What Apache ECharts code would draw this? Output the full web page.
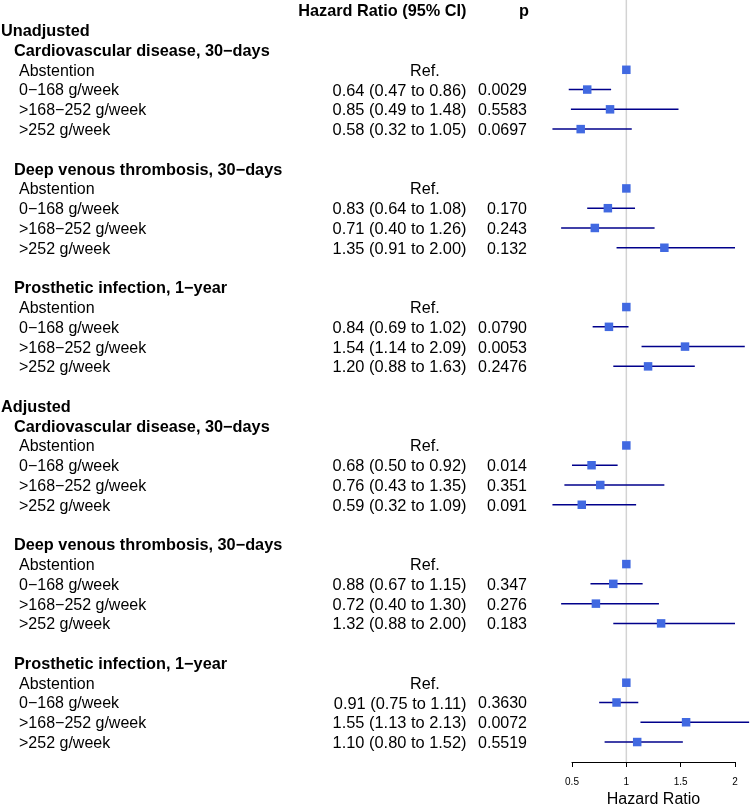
<!DOCTYPE html>
<html><head><meta charset="utf-8">
<script src="https://cdn.jsdelivr.net/npm/echarts@6/dist/echarts.min.js"></script>
<style>html,body{margin:0;padding:0;background:#fff}#c{width:750px;height:808px}</style>
</head><body><div id="c"></div>
<script>
// ---------- data ----------
const groups = ["Unadjusted", "Adjusted"];
const outcomes = ["Cardiovascular disease, 30\u2212days", "Deep venous thrombosis, 30\u2212days", "Prosthetic infection, 1\u2212year"];
const exposures = ["Abstention", "0\u2212168 g/week", ">168\u2212252 g/week", ">252 g/week"];

const hrUnadj = [[1, 0.64, 0.85, 0.58], [1, 0.83, 0.71, 1.35], [1, 0.84, 1.54, 1.20]];
const loUnadj = [[null, 0.47, 0.49, 0.32], [null, 0.64, 0.40, 0.91], [null, 0.69, 1.14, 0.88]];
const hiUnadj = [[null, 0.86, 1.48, 1.05], [null, 1.08, 1.26, 2.00], [null, 1.02, 2.09, 1.63]];
const pUnadj  = [["", "0.0029", "0.5583", "0.0697"], ["", "0.170", "0.243", "0.132"], ["", "0.0790", "0.0053", "0.2476"]];

const hrAdj = [[1, 0.68, 0.76, 0.59], [1, 0.88, 0.72, 1.32], [1, 0.91, 1.55, 1.10]];
const loAdj = [[null, 0.50, 0.43, 0.32], [null, 0.67, 0.40, 0.88], [null, 0.75, 1.13, 0.80]];
const hiAdj = [[null, 0.92, 1.35, 1.09], [null, 1.15, 1.30, 2.00], [null, 1.11, 2.13, 1.52]];
const pAdj  = [["", "0.014", "0.351", "0.091"], ["", "0.347", "0.276", "0.183"], ["", "0.3630", "0.0072", "0.5519"]];

const xTicks = [0.5, 1, 1.5, 2];
const refValue = 1;
const headerHR = "Hazard Ratio (95% CI)";
const headerP = "p";
const refText = "Ref.";
const axisTitle = "Hazard Ratio";

// ---------- build rows ----------
const HR = [hrUnadj, hrAdj], LO = [loUnadj, loAdj], HI = [hiUnadj, hiAdj], P = [pUnadj, pAdj];
const textRows = [];   // {row, level, label, hrText, pText}
const marks = [];      // [hr, lo, hi, row]
textRows.push({row: 0, level: -1, label: "", hrText: headerHR, pText: headerP});
let r = 1;
groups.forEach((g, gi) => {
  textRows.push({row: r, level: 0, label: g}); r++;
  outcomes.forEach((o, oi) => {
    textRows.push({row: r, level: 1, label: o}); r++;
    exposures.forEach((e, ei) => {
      const hr = HR[gi][oi][ei], lo = LO[gi][oi][ei], hi = HI[gi][oi][ei];
      const isRef = lo === null;
      textRows.push({
        row: r, level: 2, label: e,
        hrText: isRef ? refText : hr.toFixed(2) + " (" + lo.toFixed(2) + " to " + hi.toFixed(2) + ")",
        isRef: isRef,
        pText: P[gi][oi][ei]
      });
      marks.push([hr, isRef ? '-' : lo, isRef ? '-' : hi, r]);
      r++;
    });
    r++; // blank row
  });
});

const FONT = '"Liberation Sans", Arial, Helvetica, sans-serif';
const levelX = [1, 14, 19];
const HR_RIGHT = 466.5, REF_LEFT = 410, P_RIGHT = 527;
const Y_OFF = 1.5;
const YMIN = -0.53, YMAX = 38.01;

function txt(text, x, y, align, bold, size) {
  return {
    type: 'text',
    style: {
      text: text, x: x, y: y + Y_OFF,
      textAlign: align, align: align,
      textVerticalAlign: 'middle', verticalAlign: 'middle',
      font: (bold ? 'bold ' : '') + (size || 16) + 'px ' + FONT,
      fill: '#000'
    }
  };
}

const chart = echarts.init(document.getElementById('c'), null, {renderer: 'canvas'});
chart.setOption({
  animation: false,
  backgroundColor: '#fff',
  grid: {left: 572, width: 163, top: 0, height: 762, containLabel: false, outerBoundsMode: 'none'},
  xAxis: {
    type: 'value', min: 0.5, max: 2, interval: 0.5,
    axisLine: {show: true, onZero: false, lineStyle: {color: '#000', width: 1}},
    axisTick: {show: true, length: 5, lineStyle: {color: '#000', width: 1}, customValues: xTicks},
    axisLabel: {show: true, fontSize: 10, color: '#000', margin: 15, fontFamily: FONT, customValues: xTicks},
    splitLine: {show: false},
    name: axisTitle, nameLocation: 'middle', nameGap: 24,
    nameTextStyle: {fontSize: 16, color: '#000', fontFamily: FONT, verticalAlign: 'top'}
  },
  yAxis: {type: 'value', inverse: true, min: YMIN, max: YMAX, show: false},
  series: [
    {
      type: 'custom', z: 1, clip: false, silent: true,
      data: [[refValue, YMIN, YMAX]],
      encode: {x: 0, y: [1, 2]},
      renderItem: function (params, api) {
        const a = api.coord([api.value(0), api.value(1)]);
        const b = api.coord([api.value(0), api.value(2)]);
        return {type: 'line', shape: {x1: a[0], y1: a[1], x2: b[0], y2: b[1]},
                style: {stroke: '#d3d3d3', lineWidth: 1.5}};
      }
    },
    {
      type: 'custom', z: 2, clip: false, silent: true,
      data: textRows.map((t, i) => [0.5, t.row]),
      encode: {x: 0, y: 1},
      renderItem: function (params, api) {
        const t = textRows[params.dataIndex];
        const y = api.coord([0.5, t.row])[1];
        const children = [];
        if (t.level === -1) {
          children.push(txt(t.hrText, HR_RIGHT, y, 'right', true, 16.3));
          children.push(txt(t.pText, P_RIGHT + 2, y, 'right', true, 16.3));
        } else {
          children.push(txt(t.label, levelX[t.level], y, 'left', t.level < 2, t.level < 2 ? 16.3 : 16));
          if (t.level === 2) {
            if (t.isRef) children.push(txt(t.hrText, REF_LEFT, y, 'left', false, 16.2));
            else children.push(txt(t.hrText, HR_RIGHT, y, 'right', false, 16.4));
            if (t.pText) children.push(txt(t.pText, P_RIGHT, y, 'right', false, 16));
          }
        }
        return {type: 'group', children: children};
      }
    },
    {
      type: 'custom', z: 3, clip: false, silent: true,
      data: marks,
      encode: {x: [0, 1, 2], y: 3},
      renderItem: function (params, api) {
        const hr = api.value(0), lo = api.value(1), hi = api.value(2), row = api.value(3);
        const c = api.coord([hr, row]);
        const children = [];
        if (!isNaN(lo) && !isNaN(hi)) {
          const a = api.coord([lo, row]), b = api.coord([hi, row]);
          children.push({
            type: 'line',
            shape: {x1: a[0], y1: a[1], x2: b[0], y2: b[1]},
            style: {stroke: '#00008B', lineWidth: 1.5}
          });
        }
        const s = 8.5;
        children.push({
          type: 'rect', z2: 10,
          shape: {x: c[0] - s / 2, y: c[1] - s / 2, width: s, height: s},
          style: {fill: '#4169E1', stroke: null}
        });
        return {type: 'group', children: children};
      }
    }
  ]
});
</script>
</body></html>
